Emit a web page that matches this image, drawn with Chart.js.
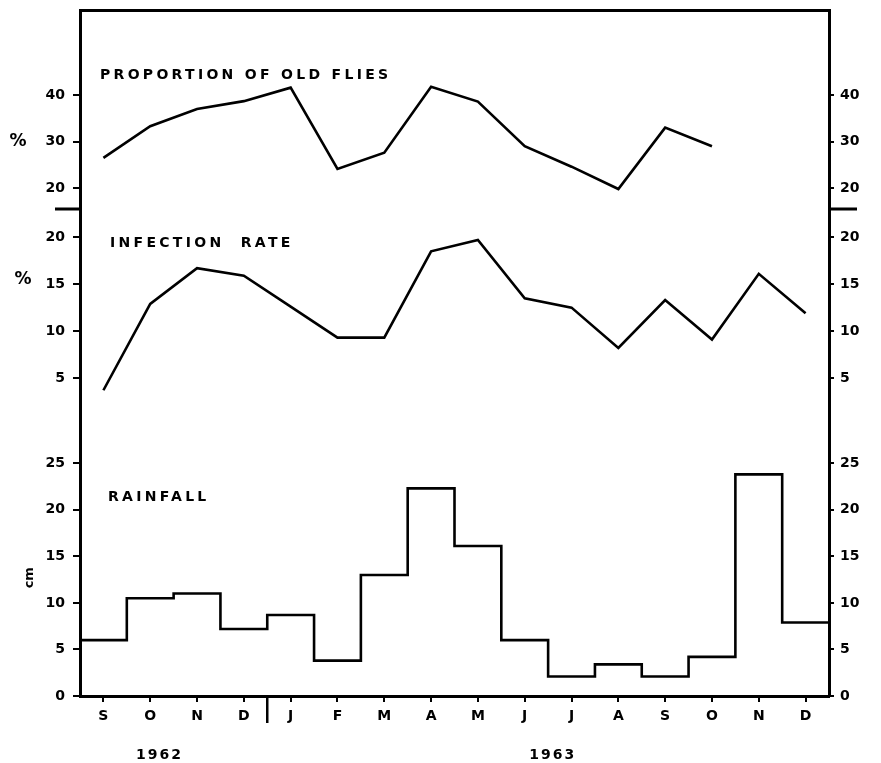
<!DOCTYPE html>
<html>
<head>
<meta charset="utf-8">
<script src="https://cdn.jsdelivr.net/npm/chart.js@4.4.1/dist/chart.umd.min.js"></script>
<style>
html, body { margin: 0; padding: 0; background: #fff; }
#wrap { width: 881px; height: 763px; }
</style>
</head>
<body>
<div id="wrap"><canvas id="c" width="881" height="763"></canvas></div>
<script>
var months = ['S', 'O', 'N', 'D', 'J', 'F', 'M', 'A', 'M', 'J', 'J', 'A', 'S', 'O', 'N', 'D'];
var oldFlies = [26.5, 33.3, 37.0, 38.7, 41.6, 24.1, 27.6, 41.8, 38.6, 29.0, 24.6, 19.8, 33.0, 29.0, null, null];
var infection = [3.7, 12.9, 16.7, 15.9, 12.6, 9.3, 9.3, 18.5, 19.7, 13.5, 12.5, 8.2, 13.3, 9.1, 16.1, 11.9];
var rainfall = [6.0, 10.5, 11.0, 7.2, 8.7, 3.8, 13.0, 22.3, 16.1, 6.0, 2.1, 3.4, 2.1, 4.2, 23.8, 7.9];
var oldTicks = [20, 30, 40];
var infTicks = [5, 10, 15, 20];
var rainTicks = [0, 5, 10, 15, 20, 25];
var years = ['1962', '1963'];
var yearPos = [1.2, 9.6];
var yearSplit = 3.5;

var black = '#000';
Chart.defaults.font.family = 'DejaVu Sans';
Chart.defaults.font.weight = 'bold';
Chart.defaults.color = black;

function points(vals) {
  return vals.map(function(v, i) { return { x: i, y: v }; });
}

// step outline: each month holds its value from half a month before to half after
function steps(vals) {
  var out = vals.map(function(v, i) { return { x: i - 0.5, y: v }; });
  out.push({ x: vals.length - 0.5, y: vals[vals.length - 1] });
  return out;
}

function yAxis(pos, weight, min, max, list) {
  var left = pos === 'left';
  return {
    type: 'linear', position: pos, stack: 'panels', stackWeight: weight,
    min: min, max: max,
    afterBuildTicks: function(s) { s.ticks = list.map(function(v) { return { value: v }; }); },
    afterFit: function(s) { s.width = left ? 80 : 52; s.paddingTop = 0; s.paddingBottom = 0; },
    ticks: { color: black, padding: left ? 8 : 6, font: { size: 14, weight: 'bold' } },
    grid: { drawOnChartArea: false, drawTicks: true, tickLength: left ? 7 : 5, color: black, lineWidth: 2 },
    border: { display: true, color: black, width: 3 }
  };
}

var decor = {
  id: 'decor',
  afterDraw: function(chart) {
    var ctx = chart.ctx;
    var area = chart.chartArea;
    var x = chart.scales.x;
    var yTop = chart.scales.yTop;
    var yMid = chart.scales.yMid;
    var yBot = chart.scales.yBot;
    ctx.save();
    ctx.fillStyle = black;
    ctx.strokeStyle = black;
    ctx.textBaseline = 'middle';

    // panel titles
    ctx.font = 'bold 14px "DejaVu Sans"';
    ctx.letterSpacing = '3.3px';
    ctx.textAlign = 'left';
    ctx.fillText('PROPORTION OF OLD FLIES', area.left + 20, yTop.getPixelForValue(44.3));
    ctx.fillText('INFECTION  RATE', area.left + 30, yMid.getPixelForValue(19.3));
    ctx.fillText('RAINFALL', area.left + 28, yBot.getPixelForValue(21.3));

    // unit labels
    ctx.letterSpacing = '0px';
    ctx.textAlign = 'center';
    ctx.font = 'bold 17px "DejaVu Sans"';
    ctx.fillText('%', 18, yTop.getPixelForValue(30));
    ctx.fillText('%', 23, yMid.getPixelForValue(15.5));
    ctx.save();
    ctx.translate(30, yBot.getPixelForValue(12.7));
    ctx.rotate(-Math.PI / 2);
    ctx.font = 'bold 13px "DejaVu Sans"';
    ctx.fillText('cm', 0, 0);
    ctx.restore();

    // years
    ctx.font = 'bold 14px "DejaVu Sans"';
    ctx.letterSpacing = '2px';
    years.forEach(function(t, i) {
      ctx.fillText(t, x.getPixelForValue(yearPos[i]), 755);
    });

    // year boundary
    ctx.lineWidth = 2.5;
    ctx.beginPath();
    var sx = x.getPixelForValue(yearSplit);
    ctx.moveTo(sx, area.bottom);
    ctx.lineTo(sx, area.bottom + 27);
    ctx.stroke();

    // axis break between the top two panels
    ctx.lineWidth = 3;
    ctx.beginPath();
    ctx.moveTo(area.left - 25, yTop.bottom);
    ctx.lineTo(area.left, yTop.bottom);
    ctx.moveTo(area.right, yTop.bottom);
    ctx.lineTo(area.right + 28, yTop.bottom);
    ctx.stroke();
    ctx.restore();
  }
};

var lineStyle = { borderColor: black, borderWidth: 2.6, pointRadius: 0, tension: 0, fill: false, spanGaps: false };

new Chart(document.getElementById('c').getContext('2d'), {
  type: 'line',
  data: {
    datasets: [
      Object.assign({ label: 'Proportion of old flies', data: points(oldFlies), yAxisID: 'yTop' }, lineStyle),
      Object.assign({ label: 'Infection rate', data: points(infection), yAxisID: 'yMid' }, lineStyle),
      Object.assign({ label: 'Rainfall', data: steps(rainfall), yAxisID: 'yBot', stepped: true }, lineStyle)
    ]
  },
  options: {
    responsive: false, animation: false,
    layout: { padding: 0 },
    plugins: { legend: { display: false }, tooltip: { enabled: false } },
    scales: {
      x: {
        type: 'linear', position: 'bottom', min: -0.5, max: 15.5,
        afterBuildTicks: function(s) { s.ticks = months.map(function(m, i) { return { value: i }; }); },
        afterFit: function(s) { s.height = 67; },
        ticks: { padding: 6, autoSkip: false, maxRotation: 0, font: { size: 14, weight: 'bold' },
          callback: function(v) { return months[v]; } },
        grid: { drawOnChartArea: false, drawTicks: true, tickLength: 6, color: black, lineWidth: 2 },
        border: { display: true, color: black, width: 3 }
      },
      xTop: {
        type: 'linear', position: 'top', min: -0.5, max: 15.5,
        afterFit: function(s) { s.height = 10; },
        ticks: { display: false },
        grid: { display: false, drawTicks: false },
        border: { display: true, color: black, width: 3 }
      },
      // left stack is laid out bottom-up, so list it from the bottom panel
      yBot: yAxis('left', 271, 0, 29.1, rainTicks),
      yMid: yAxis('left', 216, 0, 23, infTicks),
      yTop: yAxis('left', 199, 15.5, 58.3, oldTicks),
      yTopR: yAxis('right', 199, 15.5, 58.3, oldTicks),
      yMidR: yAxis('right', 216, 0, 23, infTicks),
      yBotR: yAxis('right', 271, 0, 29.1, rainTicks)
    }
  },
  plugins: [decor]
});
</script>
</body>
</html>
